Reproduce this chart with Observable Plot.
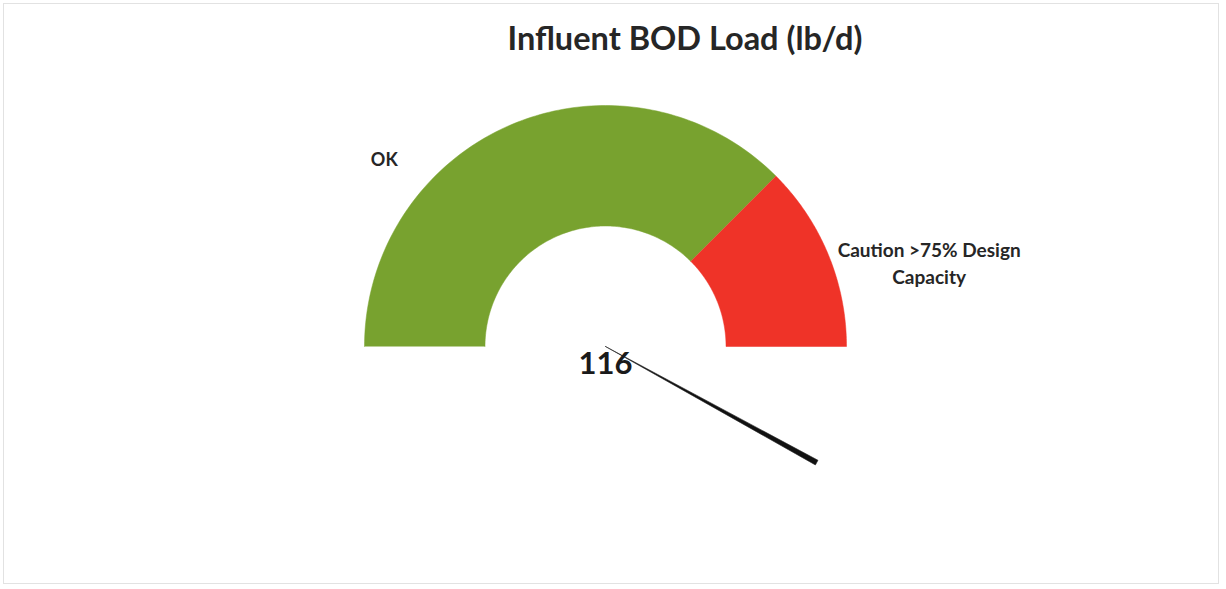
<!DOCTYPE html>
<html>
<head>
<meta charset="utf-8">
<script src="https://cdn.jsdelivr.net/npm/d3@7"></script>
<script src="https://cdn.jsdelivr.net/npm/@observablehq/plot@0.6"></script>
<style>
  html, body { margin: 0; padding: 0; background: #fff; }
  #frame { position: absolute; left: 3px; top: 3px; width: 1216px; height: 581px; border: 1px solid #e2e2e2; box-sizing: border-box; }
  #title { position: absolute; left: 0; top: 0; width: 1226px; height: 75px; font-family: Lato, "Open Sans", sans-serif; font-weight: bold; font-size: 32.5px; color: #262626; }
  #title span { position: absolute; left: 685px; top: 18px; transform: translateX(-50%); white-space: nowrap; }
  #chart { position: absolute; left: 0; top: 75px; }
</style>
</head>
<body>
<div id="frame"></div>
<div id="title"><span>Influent BOD Load (lb/d)</span></div>
<div id="chart"></div>
<script>
// ---- data ----
const segmentNames = ["OK", "Caution >75% Design Capacity"];
const segmentLabels = [["OK"], ["Caution >75% Design", "Capacity"]];
const segmentValues = [75, 25];
const segmentColors = ["#78a22f", "#ef3328"];
const gaugeMax = 100;
const needleValue = 116;
const needleLabel = "116";
const needleWidth = 0.7;   // in value units
const innerRatio = 0.5;

// ---- geometry helpers (value -> angle) ----
const angle = v => Math.PI - (v / gaugeMax) * Math.PI;
function arcPolygon(v0, v1, r0, r1, name) {
  const pts = [];
  const n = 120;
  for (let i = 0; i <= n; i++) {
    const a = angle(v0 + (v1 - v0) * i / n);
    pts.push({name, x: r1 * Math.cos(a), y: r1 * Math.sin(a)});
  }
  for (let i = n; i >= 0; i--) {
    const a = angle(v0 + (v1 - v0) * i / n);
    pts.push({name, x: r0 * Math.cos(a), y: r0 * Math.sin(a)});
  }
  return pts;
}

let acc = 0;
const arcData = [];
const labelData = [];
segmentNames.forEach((name, i) => {
  const v0 = acc, v1 = acc + segmentValues[i];
  arcData.push(...arcPolygon(v0, v1, innerRatio, 1, name));
  const am = angle((v0 + v1) / 2);
  labelData.push({name, lines: segmentLabels[i].join("\n"), x: Math.cos(am), y: Math.sin(am)});
  acc = v1;
});

// needle: thin wedge from centre to the outer radius
const needleData = [
  {x: 0, y: 0},
  {x: Math.cos(angle(needleValue - needleWidth / 2)), y: Math.sin(angle(needleValue - needleWidth / 2))},
  {x: Math.cos(angle(needleValue + needleWidth / 2)), y: Math.sin(angle(needleValue + needleWidth / 2))},
  {x: 0, y: 0}
];

const W = 1226, H = 514, R = 241, cx = 605, cy = 271;

const chart = Plot.plot({
  width: W,
  height: H,
  margin: 0,
  x: {domain: [-cx / R, (W - cx) / R], axis: null},
  y: {domain: [-(H - cy) / R, cy / R], axis: null},
  style: {fontFamily: "Lato, 'Open Sans', sans-serif", background: "transparent"},
  marks: [
    Plot.line(arcData, {x: "x", y: "y", z: "name", fill: d => segmentColors[segmentNames.indexOf(d.name)], stroke: d => segmentColors[segmentNames.indexOf(d.name)], strokeWidth: 0.5, curve: "linear"}),
    Plot.line(needleData, {x: "x", y: "y", fill: "#111", stroke: "#222", strokeWidth: 0.6}),
    Plot.text([labelData[0]], {x: "x", y: "y", text: "lines", dx: -129, dy: 36, fontSize: 18, fontWeight: "bold", fill: "#262626"}),
    Plot.text([labelData[1]], {x: "x", y: "y", text: "lines", dx: 101, dy: 8, fontSize: 19, fontWeight: "bold", fill: "#262626", lineHeight: 1.42}),
    Plot.text([{x: 0, y: 0, t: needleLabel}], {x: "x", y: "y", text: "t", dy: 18, fontSize: 31, fontWeight: "bold", fill: "#1a1a1a"})
  ]
});
document.getElementById("chart").appendChild(chart);
</script>
</body>
</html>
